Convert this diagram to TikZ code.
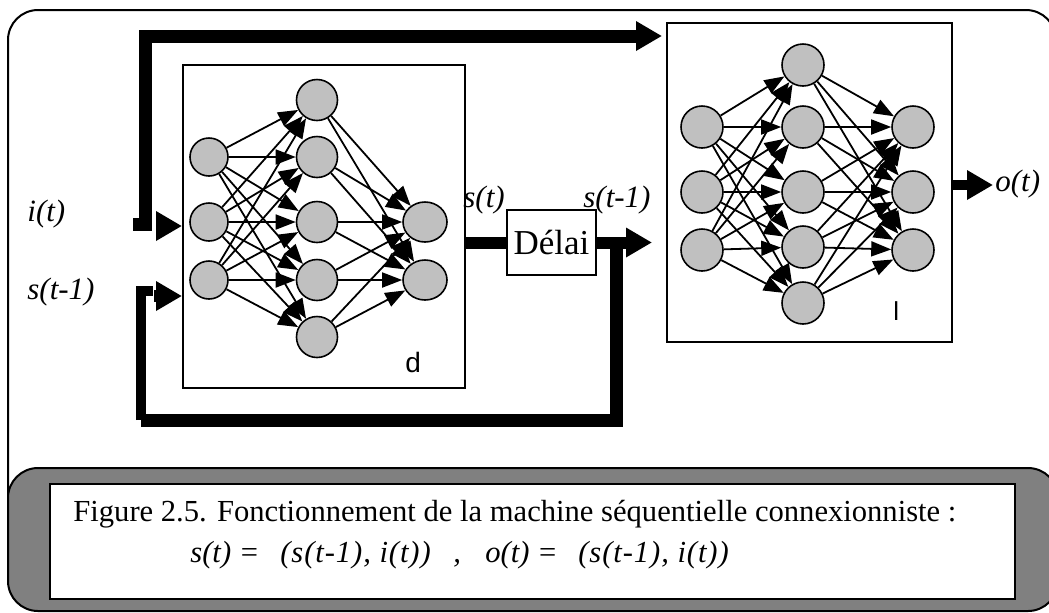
\documentclass[tikz,border=0pt]{standalone}
\usepackage{fontspec}
\setmainfont{Liberation Serif}
\setsansfont{Liberation Sans}
\usetikzlibrary{positioning, arrows.meta, shapes.geometric}

\definecolor{neurongray}{RGB}{192,192,192}
\definecolor{capgray}{RGB}{128,128,128}
\newcommand{\spaced}[2]{{\addfontfeature{LetterSpace=#1}#2}}

\tikzset{
	neuron/.style={circle, draw, line width=0.8pt, fill=neurongray, minimum size=19pt, inner sep=0pt},
	bigneuron/.style={neuron, minimum size=21pt},
	outneuron/.style={ellipse, draw, line width=0.8pt, fill=neurongray, minimum width=22pt, minimum height=20pt, inner sep=0pt},
	netbox/.style={draw, line width=1pt, inner sep=0pt},
	syn/.style={line width=0.9pt, -{Triangle[length=10pt,width=7.5pt]}},
	bus/.style={line width=6pt, -{Triangle[length=13pt,width=14pt]}},
	label/.style={anchor=base west, inner sep=0pt, font=\fontsize{15.5}{18}\selectfont\itshape},
	caption/.style={anchor=base west, inner sep=0pt, font=\fontsize{15.3}{18}\selectfont},
	formula/.style={caption, font=\fontsize{15.3}{18}\selectfont\itshape}
}

\begin{document}
\begin{tikzpicture}[x=0.5pt, y=-0.5pt]
	\useasboundingbox (0,0) rectangle (1049,612);
	% outer frame
	\draw[line width=1pt, rounded corners=15pt] (8,10) rectangle (1056,590);

	% the two networks and the delay
	\node (dbox) at (324,226.5) [netbox, minimum width=141pt, minimum height=161.5pt] {};
	\node (lbox) at (809.5,182.5) [netbox, minimum width=142.5pt, minimum height=159.5pt] {};
	\node (delai) at (551.5,242.5) [netbox, minimum width=44.5pt, minimum height=32.5pt, font=\fontsize{17.5}{20}\selectfont] {Délai};

	% network d
	\foreach \n/\y in {1/157,2/222,3/280}
		\node (din\n) at (209,\y) [neuron] {};
	\foreach \n/\y in {1/100,2/157,3/222,4/280,5/337}
		\node (dhid\n) at (317,\y) [bigneuron, minimum size=20.5pt] {};
	\node (dout1) at (425,222) [outneuron] {};
	\node (dout2) at (425,280) [outneuron] {};
	\foreach \i in {1,2,3}
		\foreach \j in {1,...,5}
			\path[syn] (din\i) edge (dhid\j);
	\foreach \i in {1,...,5}
		\foreach \j in {1,2}
			\path[syn] (dhid\i) edge (dout\j);

	% network l
	\foreach \n/\y in {1/127,2/192,3/250}
		\node (lin\n) at (702,\y) [bigneuron] {};
	\foreach \n/\y in {1/65,2/127,3/192,4/247,5/303}
		\node (lhid\n) at (803,\y) [bigneuron] {};
	\foreach \n/\y in {1/127,2/192,3/250}
		\node (lout\n) at (913,\y) [bigneuron] {};
	\foreach \i in {1,2,3}
		\foreach \j in {1,...,5}
			\path[syn] (lin\i) edge (lhid\j);
	\foreach \i in {1,...,5}
		\foreach \j in {1,2,3}
			\path[syn] (lhid\i) edge (lout\j);

	\node (dname) at (405,372) [anchor=base west, inner sep=0pt, font=\sffamily\fontsize{14}{16}\selectfont] {d};
	\node (lname) at (893,320) [anchor=base west, inner sep=0pt, font=\sffamily\fontsize{13}{16}\selectfont] {l};

	% thick lines
	\coordinate (istub) at (133,224);
	\coordinate (itop) at (145,36);
	\coordinate (iin) at (157,226);
	\coordinate (sin) at (154,296);
	\coordinate (fbdown) at (616,242.5);
	\coordinate (fbleft) at (141,420);
	\coordinate (fbstub) at (153,291);
	\coordinate (oend) at (993,185);
	\draw[bus, line width=6.5pt, shorten >=2pt] (istub) -| (itop) -- (lbox.west |- itop);
	\draw[bus] (iin) -- (dbox.west |- iin);
	\draw[bus] (sin) -- (dbox.west |- sin);
	\draw[line width=6pt] (dbox.east |- delai.west) -- (delai.west);
	\draw[bus, shorten >=7pt] (delai.east) -- (lbox.west |- delai.east);
	\draw[line width=6.5pt] (fbdown) |- (fbleft);
	\draw[line width=5pt] (fbleft) |- (fbstub);
	\draw[bus, line width=5pt] (lbox.east |- oend) -- (oend);

	% labels
	\node (it) at (27,221) [label] {i(t)};
	\node (stm) at (27,299) [label] {s(t-1)};
	\node (st) at (463,207) [label] {s(t)};
	\node (stm2) at (583,207) [label] {s(t-1)};
	\node (ot) at (995,191) [label] {o(t)};

	% caption
	\draw[line width=1pt, fill=capgray, rounded corners=15pt] (8,468) rectangle (1058,611);
	\draw[line width=1.2pt, fill=white] (50,484) rectangle (1015,599);
	\node (cap) at (73,521) [caption] {Figure 2.5. Fonctionnement de la machine séquentielle connexionniste :};
	\node (eqa) at (190,562) [formula] {s(t) =};
	\node (eqb) at (280,562) [formula] {\spaced{3}{(s(t-1), i(t))}};
	\node (eqc) at (453,562) [formula] {,};
	\node (eqd) at (485,562) [formula] {o(t) =};
	\node (eqe) at (578,562) [formula] {\spaced{3}{(s(t-1), i(t))}};
\end{tikzpicture}
\end{document}
